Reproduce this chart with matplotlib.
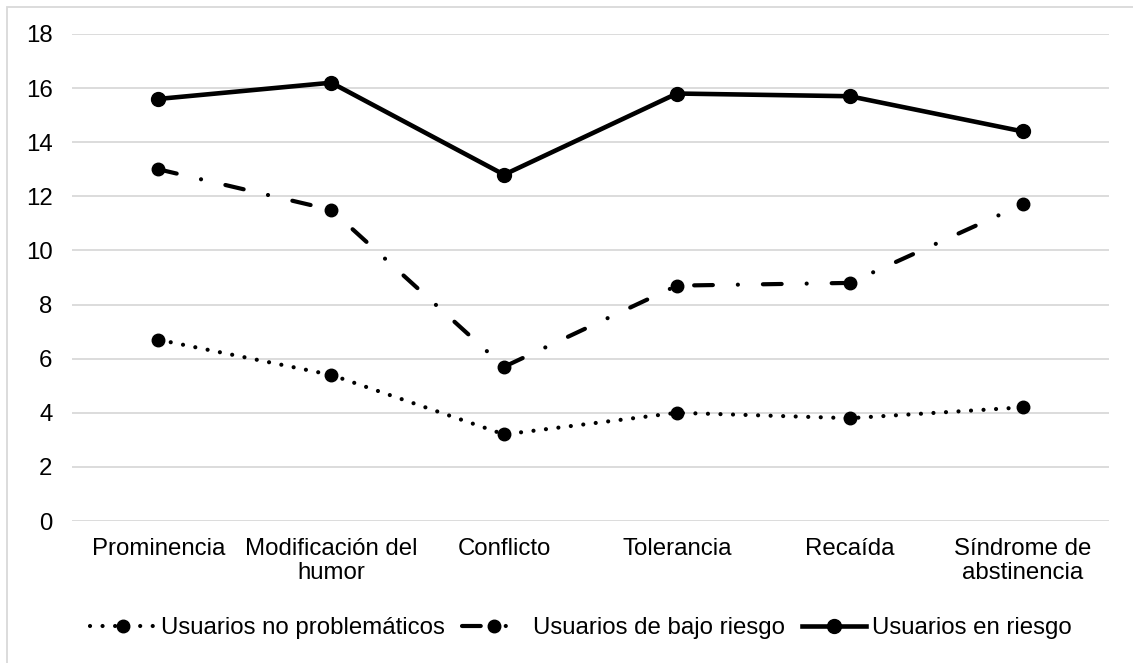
import matplotlib.pyplot as plt
from matplotlib.patches import Rectangle

plt.rcParams['font.family'] = ['Liberation Sans', 'DejaVu Sans']

# categorias y valores
categorias = ['Prominencia', 'Modificación del\nhumor', 'Conflicto',
              'Tolerancia', 'Recaída', 'Síndrome de\nabstinencia']
no_problematicos = [6.7, 5.4, 3.2, 4.0, 3.8, 4.2]
bajo_riesgo = [13.0, 11.5, 5.7, 8.7, 8.8, 11.7]
en_riesgo = [15.6, 16.2, 12.8, 15.8, 15.7, 14.4]
yticks = [0, 2, 4, 6, 8, 10, 12, 14, 16, 18]

fs = 17.3

fig = plt.figure(figsize=(11.33, 6.63), dpi=100)
ax = fig.add_axes([72 / 1133, 1 - 521 / 663, (1109 - 72) / 1133, (521 - 34) / 663])

x = list(range(len(categorias)))

ax.plot(x, no_problematicos, color='black', lw=3.0, linestyle=(0, (0.01, 3.0)),
        dash_capstyle='round', marker='o', ms=9, label='Usuarios no problemáticos')
ax.plot(x, bajo_riesgo, color='black', lw=3.0, linestyle=(0, (4.5, 6.0, 0.01, 6.0)),
        dash_capstyle='round', marker='o', ms=9, label='Usuarios de bajo riesgo')
ax.plot(x, en_riesgo, color='black', lw=3.3, marker='o', ms=10,
        label='Usuarios en riesgo')

ax.set_xlim(-0.5, len(categorias) - 0.5)
ax.set_ylim(0, 18)
ax.set_yticks(yticks)
ax.set_xticks(x)
ax.set_xticklabels(categorias, fontsize=fs, linespacing=1.15)
ax.tick_params(axis='y', labelsize=fs, length=0, pad=14)
ax.tick_params(axis='x', length=0, pad=12)
ax.grid(axis='y', color='#d9d9d9', lw=1.3)
ax.set_axisbelow(True)
for s in ax.spines.values():
    s.set_visible(False)

leg = fig.legend(loc='center', bbox_to_anchor=(0.513, 1 - 628 / 663), ncol=3,
                 frameon=False, fontsize=fs, handlelength=2.7, handletextpad=0.25,
                 columnspacing=0.7)

# borde gris del grafico
fig.patches.append(Rectangle((7 / 1133, -0.01), 1.02, 1 - 7 / 663 + 0.01,
                             transform=fig.transFigure, fill=False,
                             edgecolor='#d9d9d9', lw=1.3))

fig.savefig('out.png', dpi=100)
